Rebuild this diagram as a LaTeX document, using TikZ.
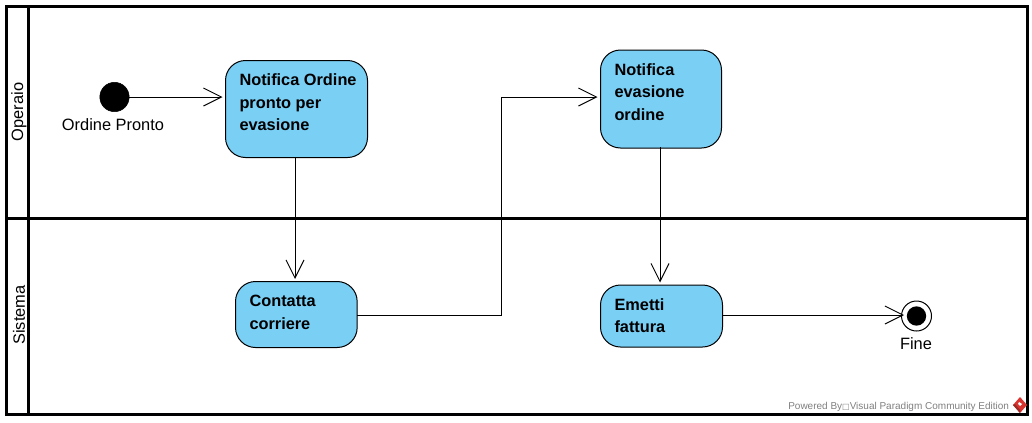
\documentclass[tikz,border=0pt]{standalone}
\usepackage{fontspec}
\setmainfont{Liberation Sans}
\newfontfamily\symfont{DejaVu Sans}
\usetikzlibrary{arrows.meta}
\definecolor{actfill}{HTML}{7ACFF5}
\definecolor{footgray}{HTML}{808080}
\definecolor{logored}{HTML}{D9342F}
\definecolor{logodark}{HTML}{9E2A26}
\newcommand{\acttxt}[3]{\parbox[c][#2][t]{#1}{\raggedright\rule{0pt}{18.75pt}#3}}
\tikzset{
  x=0.75pt,y=-0.75pt,
  lane/.style={draw=black,line width=2.25pt},
  act/.style={draw=black,line width=0.75pt,fill=actfill,rounded corners=15pt,font=\bfseries\fontsize{12.25pt}{17pt}\selectfont,inner xsep=10.5pt,inner ysep=0pt,anchor=north west},
  flow/.style={draw=black,line width=0.75pt,-{Straight Barb[length=13.5pt,width=13.5pt,line width=0.75pt]}},
  lbl/.style={font=\fontsize{12.3pt}{14pt}\selectfont,inner sep=0pt},
}
\begin{document}
\begin{tikzpicture}
\useasboundingbox (0,0) rectangle (1032,422);
\fill[white] (0,0) rectangle (1032,422);
% swimlanes
\draw[lane] (6,6) rectangle (1027,414);
\draw[lane] (28,6) -- (28,414);
\draw[lane] (6,218) -- (1027,218);
\node[lbl,rotate=90] (op) at (19,112) {Operaio};
\node[lbl,rotate=90] (si) at (19,315) {Sistema};
% activities
\node[act] (a) at (225,60) {\acttxt{85.5pt}{72.75pt}{\mbox{Notifica Ordine}\\pronto per\\evasione}};
\node[act] (b) at (235,281) {\acttxt{70.25pt}{49.5pt}{Contatta\\corriere}};
\node[act] (c) at (600,49.5) {\acttxt{69.75pt}{73.5pt}{Notifica\\evasione\\ordine}};
\node[act] (d) at (600,284.5) {\acttxt{70.5pt}{46.5pt}{Emetti\\fattura}};
% start, end
\node[circle,fill=black,draw=black,minimum size=22pt,inner sep=0pt] (s) at (114.5,97) {};
\node[lbl,anchor=base] (sl) at (113,130) {Ordine Pronto};
\node[circle,fill=white,draw=black,line width=0.75pt,minimum size=22.5pt,inner sep=0pt] (e) at (916.5,316) {};
\node[circle,fill=black,minimum size=14.5pt,inner sep=0pt] (ei) at (e) {};
\node[lbl,anchor=base] (el) at (916,349) {Fine};
% connectors
\coordinate (b1) at (501,315);
\coordinate (b2) at (501,97);
\coordinate (c1) at (597.5,97);
\coordinate (a0) at (295,157);
\coordinate (a1) at (295,279);
\coordinate (c0) at (660,147);
\coordinate (c2) at (660,282.5);
\coordinate (b0) at (357,315);
\coordinate (d0) at (722,315);
\coordinate (s1) at (222.5,97);
\coordinate (e1) at (904,315);
\draw[flow] (s.east) -- (s1);
\draw[flow] (a0) -- (a1);
\draw[flow] (b0) -- (b1) -- (b2) -- (c1);
\draw[flow] (c0) -- (c2);
\draw[flow] (d0) -- (e1);
% footer
\node[anchor=base west,inner sep=0pt,text=footgray,font=\fontsize{7.5pt}{9pt}\selectfont] (ft) at (788,409) {Powered By{\symfont\fontsize{6pt}{9pt}\selectfont □}Visual Paradigm Community Edition};
\fill[logored] (1020,397) -- (1027,405) -- (1020,413) -- (1013,405) -- cycle;
\fill[logodark] (1013,405) -- (1020,413) -- (1020,410) -- (1015,404) -- cycle;
\fill[white] (1019,402) -- (1022,404) -- (1020,406) -- (1018,404) -- cycle;
\end{tikzpicture}
\end{document}
